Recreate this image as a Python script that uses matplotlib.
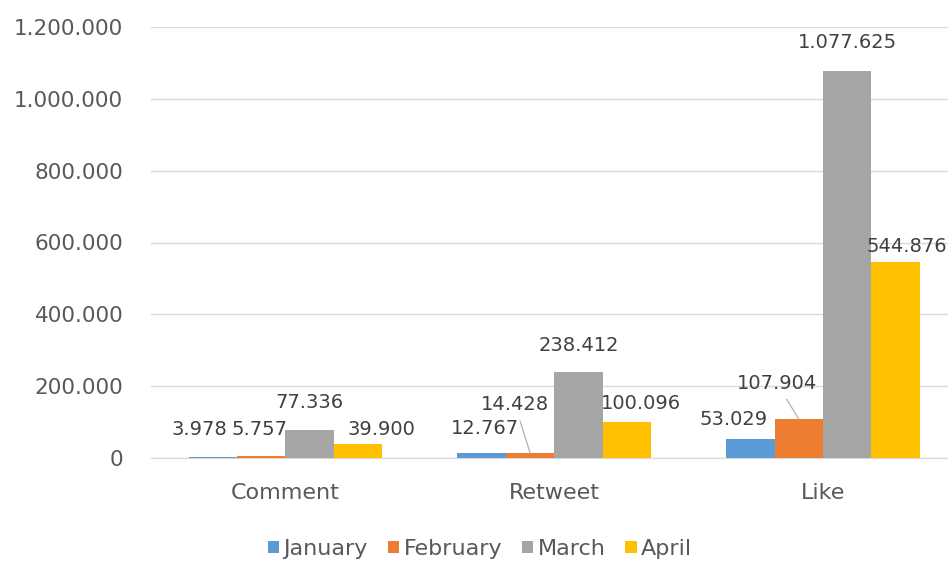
import matplotlib
matplotlib.use('Agg')
import matplotlib.pyplot as plt
import matplotlib.ticker as mticker
import numpy as np

categories = ['Comment', 'Retweet', 'Like']
months = ['January', 'February', 'March', 'April']
january = [3978, 12767, 53029]
february = [5757, 14428, 107904]
march = [77336, 238412, 1077625]
april = [39900, 100096, 544876]
series = [january, february, march, april]
colors = ['#5B9BD5', '#ED7D31', '#A5A5A5', '#FFC000']

# hand-dragged data label spots (px from top centre of bar), as in the excel chart
label_shift = {
    (0, 0): (-13, 27), (1, 0): (-2, 26), (2, 0): (0, 28), (3, 0): (23, 14),
    (0, 1): (3, 25), (1, 1): (-15, 48), (2, 1): (0, 27), (3, 1): (14, 19),
    (0, 2): (-17, 19), (1, 2): (-22, 36), (2, 2): (0, 28), (3, 2): (11, 16),
}
leader_lines = [(1, 1), (1, 2)]

plt.rcParams['font.family'] = 'DejaVu Sans'

fig = plt.figure(figsize=(9.48, 5.63), dpi=100)
ax = fig.add_axes([151/948, 1 - 458/563, 1 - 151/948, (458 - 27)/563])

x = np.arange(len(categories))
width = 0.18
for i, vals in enumerate(series):
    xs = x + (i - 1.5) * width
    ax.bar(xs, vals, width, color=colors[i], label=months[i], zorder=3)
    for j, v in enumerate(vals):
        dx, dy = label_shift[(i, j)]
        arrow = None
        if (i, j) in leader_lines:
            arrow = dict(arrowstyle='-', color='#A6B4C4', lw=0.9, shrinkA=3, shrinkB=0)
        ax.annotate(f'{v:,}'.replace(',', '.'), xy=(xs[j], v),
                    xytext=(dx*0.72, dy*0.72), textcoords='offset points',
                    ha='center', va='center', fontsize=14, color='#404040',
                    annotation_clip=False, arrowprops=arrow, zorder=4)

ax.set_xlim(-0.5, 2.5 - 9.5/269)
ax.set_ylim(0, 1200000)
ax.set_yticks(np.arange(0, 1200001, 200000))
ax.yaxis.set_major_formatter(mticker.FuncFormatter(lambda v, p: f'{int(v):,}'.replace(',', '.')))
ax.set_xticks(x)
ax.set_xticklabels(categories)
ax.tick_params(axis='y', length=0, pad=20, labelsize=15.5, labelcolor='#595959')
ax.tick_params(axis='x', length=0, pad=18, labelsize=16, labelcolor='#595959')
ax.grid(axis='y', color='#D9D9D9', lw=1, zorder=0)
for s in ['top', 'right', 'left']:
    ax.spines[s].set_visible(False)
ax.spines['bottom'].set_color('#D9D9D9')

handles, labels = ax.get_legend_handles_labels()
leg = fig.legend(handles, labels, loc='center', bbox_to_anchor=(480/948, 1 - 549/563),
                 ncol=4, frameon=False, fontsize=16, handlelength=0.5, handleheight=0.5,
                 handletextpad=0.2, columnspacing=0.9)
for t in leg.get_texts():
    t.set_color('#595959')

fig.savefig('out.png', dpi=100)
